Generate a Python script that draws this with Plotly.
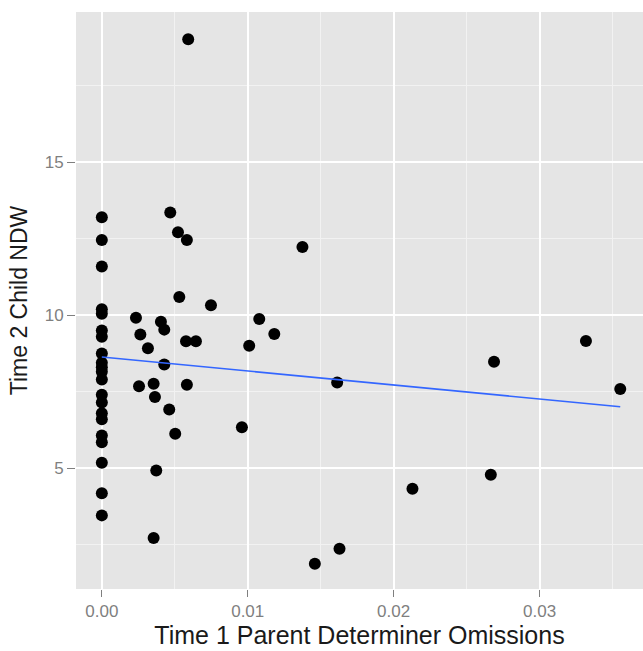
import numpy as np
import plotly.graph_objects as go

# Time 1 parent determiner omissions (x) and Time 2 child NDW (y)
x_vals = [0.0] * 21 + [
    0.00592, 0.00469, 0.00522, 0.00583, 0.01375, 0.00531, 0.00234, 0.00405,
    0.00428, 0.00264, 0.00748, 0.01079, 0.01182, 0.00577, 0.00645, 0.01010,
    0.00316, 0.00428, 0.00255, 0.00355, 0.00583, 0.00364, 0.00462, 0.00960,
    0.00503, 0.00373, 0.00355, 0.01613, 0.02688, 0.03318, 0.03553, 0.02666,
    0.02129, 0.01629, 0.01460,
]
y_vals = [
    13.2, 12.46, 11.59, 10.2, 10.05, 9.5, 9.3, 8.75, 8.45, 8.3, 8.15, 7.9,
    7.4, 7.15, 6.8, 6.6, 6.07, 5.85, 5.18, 4.18, 3.46,
] + [
    19.02, 13.36, 12.71, 12.46, 12.23, 10.6, 9.92, 9.79,
    9.53, 9.37, 10.33, 9.88, 9.39, 9.15, 9.15, 9.0,
    8.92, 8.39, 7.68, 7.76, 7.73, 7.33, 6.92, 6.34,
    6.13, 4.93, 2.72, 7.80, 8.48, 9.16, 7.59, 4.79,
    4.33, 2.37, 1.88,
]
x_tick_vals = [0.00, 0.01, 0.02, 0.03]
x_tick_text = ["0.00", "0.01", "0.02", "0.03"]
y_tick_vals = [5, 10, 15]
y_tick_text = ["5", "10", "15"]

x_arr = np.array(x_vals)
y_arr = np.array(y_vals)
slope, intercept = np.polyfit(x_arr, y_arr, 1)
fit_x = np.array([x_arr.min(), x_arr.max()])
fit_y = intercept + slope * fit_x

fig = go.Figure()
fig.add_trace(go.Scatter(
    x=x_vals, y=y_vals, mode="markers",
    marker=dict(color="black", size=12, line=dict(width=0)),
    showlegend=False, hoverinfo="skip",
))
fig.add_trace(go.Scatter(
    x=fit_x, y=fit_y, mode="lines",
    line=dict(color="#3366FF", width=1.6),
    showlegend=False, hoverinfo="skip",
))

font_family = "Liberation Sans, Arial, sans-serif"
fig.update_layout(
    width=643, height=651,
    margin=dict(l=76, r=0, t=12, b=62),
    paper_bgcolor="white",
    plot_bgcolor="#E5E5E5",
    font=dict(family=font_family),
    xaxis=dict(
        range=[-0.00177, 0.03709],
        tickvals=x_tick_vals, ticktext=x_tick_text,
        showgrid=True, gridcolor="white", gridwidth=1.6,
        minor=dict(dtick=0.005, tick0=0, showgrid=True,
                   gridcolor="#F2F2F2", gridwidth=0.8, ticks=""),
        ticks="outside", ticklen=7, tickwidth=1, tickcolor="#7F7F7F",
        tickfont=dict(size=17, color="#7F7F7F"),
        zeroline=False, showline=False,
        title=dict(text="Time 1 Parent Determiner Omissions",
                   font=dict(size=25, color="#1A1A1A"), standoff=6),
    ),
    yaxis=dict(
        range=[1.054, 19.91],
        tickvals=y_tick_vals, ticktext=y_tick_text,
        showgrid=True, gridcolor="white", gridwidth=1.6,
        minor=dict(dtick=2.5, tick0=0, showgrid=True,
                   gridcolor="#F2F2F2", gridwidth=0.8, ticks=""),
        ticks="outside", ticklen=8, tickwidth=1, tickcolor="#7F7F7F",
        tickfont=dict(size=17, color="#7F7F7F"),
        zeroline=False, showline=False,
        title=dict(text="Time 2 Child NDW",
                   font=dict(size=23, color="#1A1A1A"), standoff=10),
    ),
)

fig.write_html(
    "out.html",
    config={"displayModeBar": False},
    post_script="document.body.style.margin='0';document.body.style.overflow='hidden';",
)
